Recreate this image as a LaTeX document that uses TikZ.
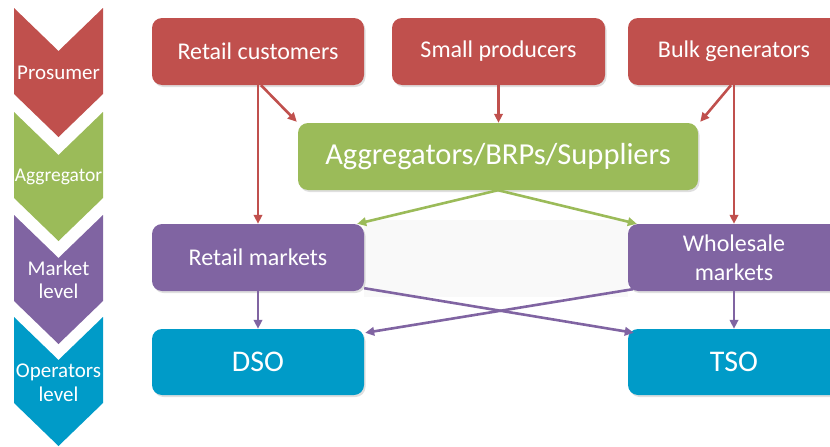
\documentclass[tikz,border=0pt]{standalone}
\usepackage{fontspec}
\setmainfont{Carlito}
\usetikzlibrary{arrows.meta,shadows,calc}
\definecolor{cred}{HTML}{C0504D}
\definecolor{cgreen}{HTML}{9BBB59}
\definecolor{cpurple}{HTML}{8064A2}
\definecolor{cblue}{HTML}{009BC8}
\tikzset{
  box/.style={rectangle, rounded corners=10pt, minimum width=212pt, minimum height=67pt,
    text=white, align=center, inner sep=2pt,
    drop shadow={shadow xshift=1.5pt, shadow yshift=-2pt, opacity=0.25}},
  redbox/.style={box, fill=cred, font=\fontsize{24}{29}\selectfont},
  purplebox/.style={box, fill=cpurple, font=\fontsize{24}{29}\selectfont},
  bluebox/.style={box, fill=cblue, font=\fontsize{30}{34}\selectfont},
  greenbox/.style={box, fill=cgreen, minimum width=400pt, font=\fontsize{30.5}{34}\selectfont},
  arr/.style={line width=2.6pt, -{Triangle[length=9pt,width=8.5pt]}},
  chevlabel/.style={text=white, align=center, font=\fontsize{21}{23.5}\selectfont, inner sep=0pt}
}
\begin{document}
\begin{tikzpicture}[x=1pt,y=-1pt]
\useasboundingbox (0,0) rectangle (830,447);
% faint background band
\fill[gray!5] (364,220) rectangle (628,297);
% chevrons
\foreach \yy/\col in {8/cred,112/cgreen,215/cpurple,317/cblue}{
  \fill[\col] (14,\yy) -- (58.5,\yy+43) -- (103,\yy) -- (103,\yy+86) -- (58.5,\yy+129) -- (14,\yy+86) -- cycle;
}
\node[chevlabel] (lp) at (58.5,73) {Prosumer};
\node[chevlabel, font=\fontsize{19.5}{22}\selectfont] (la) at (58.5,177) {Aggregator};
\node[chevlabel] (lm) at (58.5,280) {Market\\level};
\node[chevlabel] (lo) at (58.5,383) {Operators\\level};
% boxes
\node[redbox] (rc) at (258,51.5) {Retail customers};
\node[redbox, minimum width=213pt] (sp) at (498.5,51.5) {Small producers};
\node[redbox] (bg) at (734,51.5) {Bulk generators};
\node[greenbox] (agg) at (498,156.5) {Aggregators/BRPs/Suppliers};
\node[purplebox] (rm) at (258,257.5) {Retail markets};
\node[purplebox] (wm) at (734,257.5) {Wholesale\\markets};
\node[bluebox, minimum height=66pt] (dso) at (258,362) {DSO};
\node[bluebox, minimum height=66pt] (tso) at (734,362) {TSO};
% red arrows
\draw[arr, cred] (rc.south) -- (rm.north);
\draw[arr, cred] ($(rc.south)+(3,0)$) -- ($(agg.north west)+(-1,-1)$);
\draw[arr, cred] (sp.south) -- (sp.south |- agg.north);
\draw[arr, cred] (bg.south) -- (wm.north);
\draw[arr, cred] ($(bg.south)+(-3,0)$) -- ($(agg.north east)+(2,-1)$);
% green arrows
\draw[arr, cgreen] (agg.south) -- ($(rm.north east)+(-7,0)$);
\draw[arr, cgreen] (agg.south) -- ($(wm.north west)+(9,0)$);
% purple arrows
\draw[arr, cpurple] (rm.south) -- (dso.north);
\draw[arr, cpurple] (wm.south) -- (tso.north);
\draw[arr, cpurple] ($(rm.south east)+(0,-3)$) -- ($(tso.north west)+(6,4)$);
\draw[arr, cpurple] ($(wm.south west)+(5,-2)$) -- ($(dso.north east)+(1,4)$);
\end{tikzpicture}
\end{document}
